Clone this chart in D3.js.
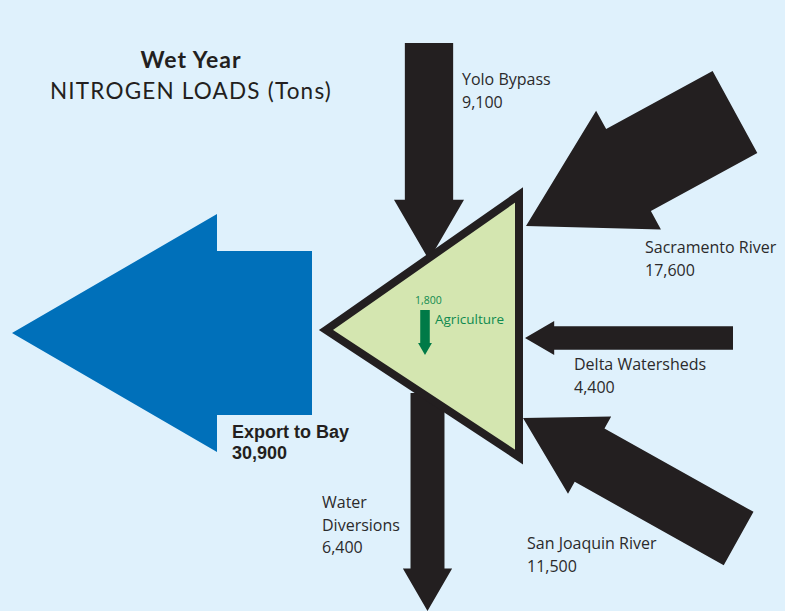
<!DOCTYPE html>
<html>
<head>
<meta charset="utf-8">
<script src="https://cdn.jsdelivr.net/npm/d3@7"></script>
<style>
  html, body { margin: 0; padding: 0; background: #dff1fc; }
  svg { display: block; }
</style>
</head>
<body>
<div id="chart"></div>
<script>
// flows into / out of the Delta (tons of nitrogen)
var flowNames = ['Yolo Bypass', 'Sacramento River', 'Delta Watersheds', 'San Joaquin River', 'Agriculture', 'Export to Bay', 'Water Diversions'];
var flowValues = [9100, 17600, 4400, 11500, 1800, 30900, 6400];
var flowLabels = ['9,100', '17,600', '4,400', '11,500', '1,800', '30,900', '6,400'];

var width = 785;
var height = 611;

// where each arrow sits: tip point, direction it points (deg), length, label anchor
var layout = {
  'Yolo Bypass':       { tip: [429, 260], angle: 90, len: 217, fill: '#231f20', label: [462, 85], lines: ['Yolo Bypass'] },
  'Sacramento River':  { tip: [526, 226], angle: 151.4, len: 238, fill: '#231f20', label: [645, 253], lines: ['Sacramento River'] },
  'Delta Watersheds':  { tip: [525, 338], angle: 180, len: 208, fill: '#231f20', label: [574, 370], lines: ['Delta Watersheds'] },
  'San Joaquin River': { tip: [523, 418], angle: 209.2, len: 247, fill: '#231f20', label: [527, 549], lines: ['San Joaquin River'] },
  'Agriculture':       { tip: [425, 355], angle: 90, len: 45, fill: '#007a47' },
  'Export to Bay':     { tip: [12, 333], angle: 180, len: 300, fill: '#0070ba' },
  'Water Diversions':  { tip: [427.5, 611], angle: 90, len: 218, fill: '#231f20', label: [322, 508], lines: ['Water', 'Diversions'] }
};

var flows = flowNames.map(function (name, i) {
  return { name: name, value: flowValues[i], label: flowLabels[i], pos: layout[name] };
});

var svg = d3.select('#chart').append('svg')
  .attr('width', width)
  .attr('height', height);

svg.append('rect')
  .attr('width', width)
  .attr('height', height)
  .attr('fill', '#dff1fc');

// arrow width is proportional to load
var thickness = d3.scaleLinear()
  .domain([0, d3.max(flowValues)])
  .range([0, 164]);

var line = d3.line();

// arrow drawn pointing along +x with its tip at the origin
function arrowPath(d) {
  var w = thickness(d.value);
  var hl = w * 1.25;
  var hw = w * 1.45;
  var L = d.pos.len;
  return line([
    [0, 0],
    [-hl, -hw / 2],
    [-hl, -w / 2],
    [-L, -w / 2],
    [-L, w / 2],
    [-hl, w / 2],
    [-hl, hw / 2]
  ]) + 'Z';
}

var bigFlows = flows.filter(function (d) { return d.name !== 'Agriculture'; });

svg.append('g').selectAll('path')
  .data(bigFlows)
  .enter()
  .append('path')
  .attr('d', arrowPath)
  .attr('fill', function (d) { return d.pos.fill; })
  .attr('transform', function (d) {
    return 'translate(' + d.pos.tip[0] + ',' + d.pos.tip[1] + ') rotate(' + d.pos.angle + ')';
  });

// the Delta itself
var delta = [[326, 330], [519, 195], [519, 457]];
svg.append('path')
  .attr('d', line(delta) + 'Z')
  .attr('fill', '#d4e6b0')
  .attr('stroke', '#231f20')
  .attr('stroke-width', 8)
  .attr('stroke-linejoin', 'miter')
  .attr('stroke-miterlimit', 10);

// agriculture arrow sits inside the triangle
var ag = flows.filter(function (d) { return d.name === 'Agriculture'; });
svg.append('g').selectAll('path')
  .data(ag)
  .enter()
  .append('path')
  .attr('d', arrowPath)
  .attr('fill', function (d) { return d.pos.fill; })
  .attr('transform', function (d) {
    return 'translate(' + d.pos.tip[0] + ',' + d.pos.tip[1] + ') rotate(' + d.pos.angle + ')';
  });

svg.append('text')
  .attr('x', 415)
  .attr('y', 304)
  .attr('font-family', 'Open Sans, sans-serif')
  .attr('font-size', 10.5)
  .attr('fill', '#0f8a4f')
  .text(ag[0].label);

svg.append('text')
  .attr('x', 435)
  .attr('y', 324)
  .attr('font-family', 'Open Sans, sans-serif')
  .attr('font-size', 13.5)
  .attr('fill', '#0f8a4f')
  .text(ag[0].name);

// flow labels
var labelled = flows.filter(function (d) { return d.pos.lines; });
var labels = svg.append('g').selectAll('text')
  .data(labelled)
  .enter()
  .append('text')
  .attr('font-family', 'Open Sans, sans-serif')
  .attr('font-size', 16)
  .attr('fill', '#2b2a2b');

labels.each(function (d) {
  var t = d3.select(this);
  d.pos.lines.concat([d.label]).forEach(function (s, i) {
    t.append('tspan')
      .attr('x', d.pos.label[0])
      .attr('y', d.pos.label[1] + i * 22.5)
      .text(s);
  });
});

// export label
var exp = flows.filter(function (d) { return d.name === 'Export to Bay'; })[0];
var expText = svg.append('text')
  .attr('font-family', 'Liberation Sans, Arial, sans-serif')
  .attr('font-weight', 'bold')
  .attr('font-size', 18)
  .attr('fill', '#231f20');
expText.append('tspan').attr('x', 232).attr('y', 438).text(exp.name);
expText.append('tspan').attr('x', 232).attr('y', 459).text(exp.label);

// title
svg.append('text')
  .attr('x', 191)
  .attr('y', 68)
  .attr('text-anchor', 'middle')
  .attr('font-family', 'Lato, sans-serif')
  .attr('font-weight', 'bold')
  .attr('font-size', 23)
  .attr('letter-spacing', 1)
  .attr('fill', '#231f20')
  .text('Wet Year');

svg.append('text')
  .attr('x', 191)
  .attr('y', 99)
  .attr('text-anchor', 'middle')
  .attr('font-family', 'Lato, sans-serif')
  .attr('font-size', 22.5)
  .attr('letter-spacing', 1.2)
  .attr('fill', '#231f20')
  .text('NITROGEN LOADS (Tons)');
</script>
</body>
</html>
